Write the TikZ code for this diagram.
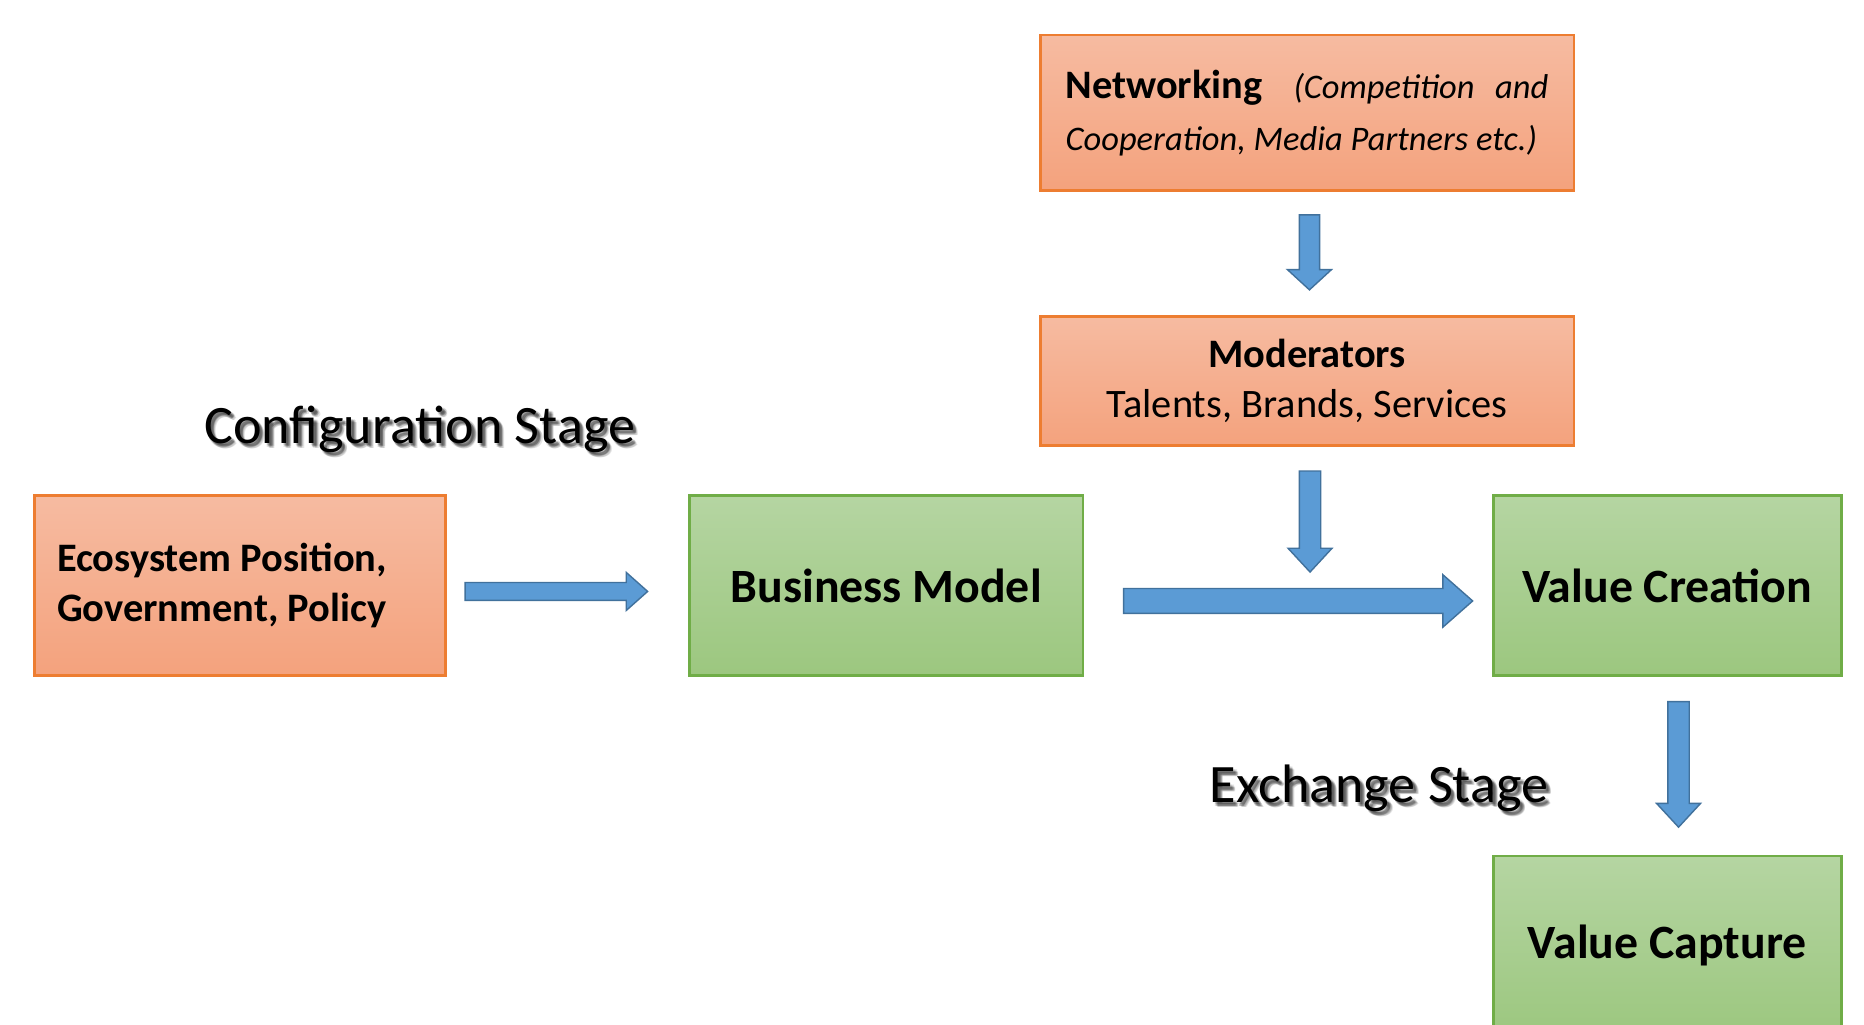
\documentclass[tikz,border=0pt]{standalone}
\usepackage{fontspec}
\setmainfont{Carlito}
\usetikzlibrary{calc}

\definecolor{orangeTop}{HTML}{F6BBA1}
\definecolor{orangeBot}{HTML}{F4A27D}
\definecolor{orangeLine}{HTML}{ED7D31}
\definecolor{greenTop}{HTML}{B5D5A2}
\definecolor{greenBot}{HTML}{9CC77F}
\definecolor{greenLine}{HTML}{70AD47}
\definecolor{arrowFill}{HTML}{5B9BD5}
\definecolor{arrowLine}{HTML}{41719C}

% one drawing unit
\def\upx{0.011888cm}
% italic remark inside the networking box
\newcommand\remark[1]{{\fontsize{9.8}{14.8}\selectfont\itshape #1}}

\tikzset{
  orangebox/.style={draw=orangeLine, line width=0.8pt, top color=orangeTop,
    bottom color=orangeBot, inner sep=0pt},
  greenbox/.style={draw=greenLine, line width=0.8pt, top color=greenTop,
    bottom color=greenBot, inner sep=0pt,
    font=\fontsize{13.6}{16}\selectfont\bfseries},
  smalltext/.style={font=\fontsize{11.5}{14.2}\selectfont},
  blockarrow/.style={fill=arrowFill, draw=arrowLine, line width=0.4pt, line join=miter},
  stagelabel/.style={font=\fontsize{15.4}{18}\selectfont, anchor=base, inner sep=0pt}
}

% block arrow pointing right: start, tip, shaft half width, head half width, head length
\newcommand\rightblock[5]{%
  \draw[blockarrow] ($(#1)+(0,-#3)$) -- ($(#2)+(-#5,-#3)$) -- ($(#2)+(-#5,-#4)$)
    -- (#2) -- ($(#2)+(-#5,#4)$) -- ($(#2)+(-#5,#3)$) -- ($(#1)+(0,#3)$) -- cycle;}
% block arrow pointing down: start, tip, shaft half width, head half width, head length
\newcommand\downblock[5]{%
  \draw[blockarrow] ($(#1)+(-#3,0)$) -- ($(#2)+(-#3,-#5)$) -- ($(#2)+(-#4,-#5)$)
    -- (#2) -- ($(#2)+(#4,-#5)$) -- ($(#2)+(#3,-#5)$) -- ($(#1)+(#3,0)$) -- cycle;}
% label with a soft drop shadow
\newcommand\stagetext[4]{%
  \foreach \dx/\dy in {1.5/2,2.5/3,3.5/4,3/2,2/3.5,4/3,2.5/2.5,3/3.5,4.5/4.5}
    \node[stagelabel, text=black, opacity=0.1] at ({#2+\dx},{#3+\dy}) {#4};
  \node[stagelabel] (#1) at (#2,#3) {#4};}

\begin{document}
\begin{tikzpicture}[x=\upx, y=-\upx]
\useasboundingbox (0,0) rectangle (1568,862);
\clip (0,0) rectangle (1568,862);
\fill[white] (0,0) rectangle (1568,862);

% boxes
\node[orangebox, minimum width=5.3377cm, minimum height=1.5573cm,
  inner xsep=0pt, text width=4.8265cm, align=flush left,
  font=\fontsize{11.5}{14.8}\selectfont] (net) at (1099.5,95)
  {\makebox[4.8265cm][s]{\textbf{Networking}\hspace{0pt plus 1.5fil}%
     \remark{(Competition}\hspace{0pt plus 1fil}\remark{and}}\\
   \remark{Cooperation, Media Partners etc.)}};
\node[orangebox, smalltext, minimum width=5.3377cm, minimum height=1.2958cm,
  align=center] (mod) at (1099.5,320.5)
  {\textbf{Moderators}\\Talents, Brands, Services};
\node[orangebox, minimum width=4.1132cm, minimum height=1.7951cm,
  inner xsep=0pt, text width=3.6614cm, align=flush left,
  font=\fontsize{11.5}{14.2}\selectfont\bfseries] (eco) at (202,492.5)
  {Ecosystem Position,\\Government, Policy};
\node[greenbox, minimum width=3.9349cm, minimum height=1.7951cm] (bm) at (745.5,492.5)
  {Business Model};
\node[greenbox, minimum width=3.4832cm, minimum height=1.7951cm] (vc) at (1402.5,492.5)
  {Value Creation};
\node[greenbox, minimum width=3.4832cm, minimum height=1.7951cm] (vcap) at (1402.5,795.5)
  {Value Capture};

% stage labels
\stagetext{cfg}{353}{373}{Configuration Stage}
\stagetext{exch}{1160}{675}{Exchange Stage}

% arrow end points
\coordinate (a0s) at ($(net.south)+(2,19)$);
\coordinate (a0e) at ($(mod.north)+(2,-21)$);
\coordinate (a1s) at ($(eco.east)+(15,5)$);
\coordinate (a1e) at ($(bm.west)+(-34,5)$);
\coordinate (a2s) at ($(mod.south)+(2.5,20)$);
\coordinate (a2e) at ($(mod.south)+(2.5,105)$);
\coordinate (a3s) at ($(bm.east)+(33,13)$);
\coordinate (a3e) at ($(vc.west)+(-16,13)$);
\coordinate (a4s) at ($(vc.south)+(9.5,21)$);
\coordinate (a4e) at ($(vcap.north)+(9.5,-23)$);

% block arrows
\downblock{a0s}{a0e}{8.5}{18.5}{17}
\rightblock{a1s}{a1e}{7.5}{16}{18}
\downblock{a2s}{a2e}{9}{18.5}{20}
\rightblock{a3s}{a3e}{10.5}{22}{25}
\downblock{a4s}{a4e}{9}{18.5}{20}
\end{tikzpicture}
\end{document}
